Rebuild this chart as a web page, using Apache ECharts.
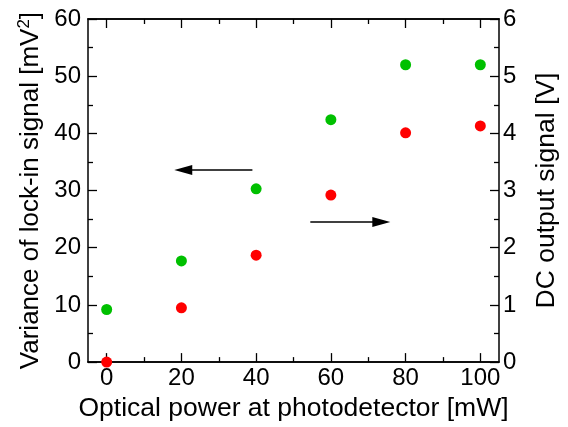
<!DOCTYPE html>
<html><head><meta charset="utf-8">
<script src="https://cdn.jsdelivr.net/npm/echarts@6/dist/echarts.min.js"></script>
<style>html,body{margin:0;padding:0;background:#fff}#c{width:568px;height:427px}</style>
</head><body><div id="c"></div>
<script>
const power = [0, 20, 40, 60, 80, 100];
const lockinVariance = [9.2, 17.7, 30.3, 42.4, 52.0, 52.0];
const dcOutput = [0.0, 0.95, 1.87, 2.92, 4.01, 4.13];
const xMajorTicks = [0, 20, 40, 60, 80, 100];
const xMinorTicks = [10, 30, 50, 70, 90];
const leftArrow = [[39, 33.6], [20.5, 33.6]];
const rightArrow = [[54.5, 2.45], [73.5, 2.45]];

const FONT = 'Liberation Sans';
const black = '#000';
const chart = echarts.init(document.getElementById('c'));
const axLine = {show: true, onZero: false, lineStyle: {color: black, width: 1.5}};
function xAx(pos, ticks, len, labels, extra) {
  return Object.assign({
    type: 'value', position: pos, min: -5, max: 105,
    axisLine: axLine,
    axisTick: {show: true, inside: true, length: len, customValues: ticks, lineStyle: {color: black, width: 1.3}},
    axisLabel: labels ? {show: true, customValues: ticks, color: black, fontFamily: FONT, fontSize: 24, margin: 4} : {show: false},
    splitLine: {show: false}
  }, extra || {});
}
chart.setOption({
  animation: false,
  grid: {left: 88, right: 65, top: 19, bottom: 64, containLabel: false},
  xAxis: [
    xAx('bottom', xMajorTicks, 9, true, {
      name: 'Optical power at photodetector [mW]', nameLocation: 'middle', nameGap: 31,
      nameTextStyle: {color: black, fontFamily: FONT, fontSize: 26.5}
    }),
    xAx('bottom', xMinorTicks, 5, false),
    xAx('top', xMajorTicks, 9, false),
    xAx('top', xMinorTicks, 5, false)
  ],
  yAxis: [
    {
      type: 'value', position: 'left', min: 0, max: 60, interval: 10,
      axisLine: axLine,
      axisTick: {show: true, inside: true, length: 9, lineStyle: {color: black, width: 1.3}},
      minorTick: {show: true, splitNumber: 2, length: 5, lineStyle: {color: black, width: 1.3}},
      axisLabel: {color: black, fontFamily: FONT, fontSize: 24, margin: 7},
      splitLine: {show: false},
      name: 'Variance of lock-in signal [mV{sup|2}]', nameLocation: 'middle', nameGap: 42, nameRotate: 90,
      nameTextStyle: {color: black, fontFamily: FONT, fontSize: 26,
        rich: {sup: {fontFamily: FONT, fontSize: 17, verticalAlign: 'top', color: black, padding: [0, 0, 12, 0]}}}
    },
    {
      type: 'value', position: 'right', min: 0, max: 6, interval: 1,
      axisLine: axLine,
      axisTick: {show: true, inside: true, length: 9, lineStyle: {color: black, width: 1.3}},
      minorTick: {show: true, splitNumber: 2, length: 5, lineStyle: {color: black, width: 1.3}},
      axisLabel: {color: black, fontFamily: FONT, fontSize: 24, margin: 4},
      splitLine: {show: false},
      name: 'DC output signal [V]', nameLocation: 'middle', nameGap: 34, nameRotate: 90,
      nameTextStyle: {color: black, fontFamily: FONT, fontSize: 26.5}
    }
  ],
  series: [
    {
      type: 'scatter', xAxisIndex: 0, yAxisIndex: 0, symbolSize: 11,
      itemStyle: {color: '#00c000', opacity: 1},
      data: power.map((p, i) => [p, lockinVariance[i]]),
      markLine: {
        silent: true, symbol: ['none', 'triangle'], symbolSize: [10, 18],
        label: {show: false}, lineStyle: {color: black, width: 1.5, type: 'solid'},
        data: [[{coord: leftArrow[0]}, {coord: leftArrow[1]}]]
      }
    },
    {
      type: 'scatter', xAxisIndex: 0, yAxisIndex: 1, symbolSize: 11,
      itemStyle: {color: '#ff0000', opacity: 1},
      data: power.map((p, i) => [p, dcOutput[i]]),
      markLine: {
        silent: true, symbol: ['none', 'triangle'], symbolSize: [10, 18],
        label: {show: false}, lineStyle: {color: black, width: 1.5, type: 'solid'},
        data: [[{coord: rightArrow[0]}, {coord: rightArrow[1]}]]
      }
    }
  ]
});
</script></body></html>
